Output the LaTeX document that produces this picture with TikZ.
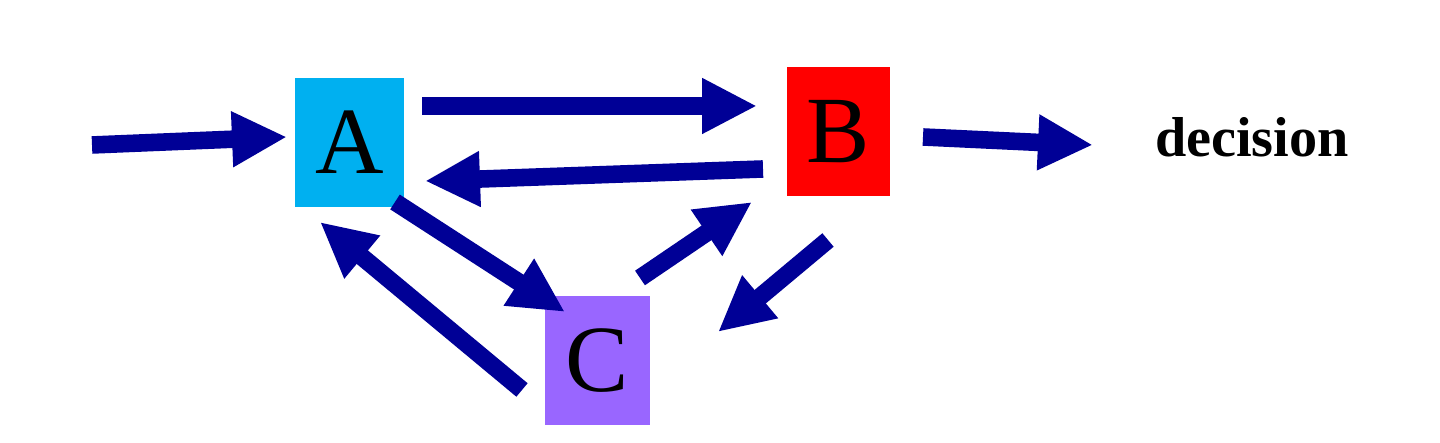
\documentclass[tikz,border=0pt]{standalone}
\usepackage{fontspec}
\setmainfont{Liberation Serif}
\usetikzlibrary{arrows.meta}
\definecolor{arrowblue}{RGB}{0,0,150}
\definecolor{boxA}{RGB}{0,176,240}
\definecolor{boxC}{RGB}{153,102,255}
\begin{document}
\begin{tikzpicture}[
        box_style/.style={inner sep=0pt,font=\fontsize{27}{27}\selectfont},
        edge_style/.style={draw=arrowblue,line width=5pt,-{Triangle[length=5.5mm,width=5.2mm]}}]
        \useasboundingbox (0,0) rectangle (14.4,4.43);
        \node [box_style,fill=boxA,minimum width=1.09cm,minimum height=1.29cm](nA) at (3.495,3.005) {A};
        \node [box_style,fill=red,minimum width=1.03cm,minimum height=1.29cm](nB) at (8.385,3.115) {B};
        \node [box_style,fill=boxC,minimum width=1.05cm,minimum height=1.29cm](nC) at (5.975,0.825) {C};
        \node [font=\fontsize{16}{16}\selectfont\bfseries](nD) at (12.52,3.06) {decision};
        % arrow end points
        \coordinate (in) at (0.92,2.98);
        \coordinate (inA) at (2.87,3.06);
        \coordinate (ab1) at (4.22,3.37);
        \coordinate (ab2) at (7.57,3.37);
        \coordinate (ba1) at (7.63,2.74);
        \coordinate (ba2) at (4.25,2.62);
        \coordinate (bd1) at (9.23,3.06);
        \coordinate (bd2) at (10.93,2.98);
        \coordinate (ac1) at (3.95,2.41);
        \coordinate (ac2) at (5.65,1.31);
        \coordinate (ca1) at (5.22,0.53);
        \coordinate (ca2) at (3.20,2.21);
        \coordinate (cb1) at (6.40,1.65);
        \coordinate (cb2) at (7.52,2.41);
        \coordinate (bc1) at (8.28,2.03);
        \coordinate (bc2) at (7.18,1.11);
        \draw [edge_style] (in) -- (inA);
        \draw [edge_style] (ab1) -- (ab2);
        \draw [edge_style] (ba1) -- (ba2);
        \draw [edge_style] (bd1) -- (bd2);
        \draw [edge_style] (ac1) -- (ac2);
        \draw [edge_style] (ca1) -- (ca2);
        \draw [edge_style] (cb1) -- (cb2);
        \draw [edge_style] (bc1) -- (bc2);
\end{tikzpicture}
\end{document}
